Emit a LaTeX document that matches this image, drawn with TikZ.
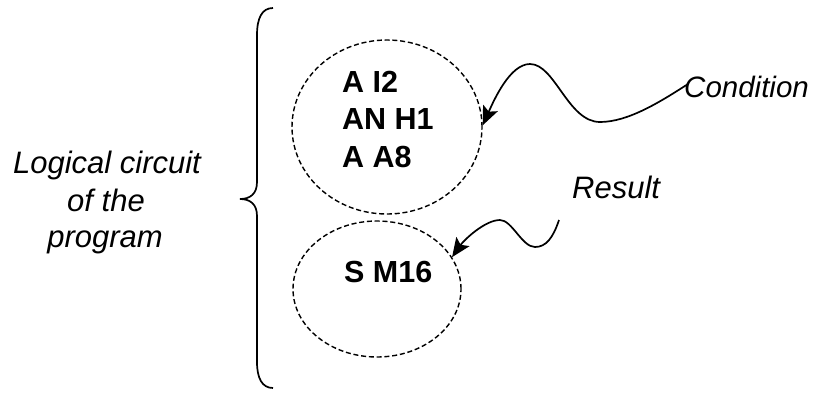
\documentclass[tikz,border=0pt]{standalone}
\usepackage{fontspec}
\setmainfont{Liberation Sans}
\usetikzlibrary{arrows.meta,shapes.geometric}
\begin{document}
\begin{tikzpicture}[x=1pt,y=-1pt,
  bubble/.style={draw,ellipse,line width=1.4pt,dash pattern=on 5pt off 2.8pt,inner sep=0pt},
  codetxt/.style={font=\fontsize{30.5}{36}\selectfont\bfseries,anchor=base west,inner sep=0pt},
  labeltxt/.style={font=\fontsize{31}{36}\selectfont\itshape,inner sep=0pt},
  wavy/.style={line width=1.7pt,-{Stealth[length=19pt,width=16pt,inset=4pt]}}]
\useasboundingbox (0,0) rectangle (816,392);
% brace
\draw[line width=1.7pt] (273,8) .. controls (262,8) and (257,18) .. (257,35) -- (257,182)
  .. controls (257,194) and (250,199) .. (240,199)
  .. controls (250,199) and (257,204) .. (257,216) -- (257,362)
  .. controls (257,378) and (262,388) .. (273,388);
% left label
\node[labeltxt,anchor=base] (lc1) at (107,173) {Logical circuit};
\node[labeltxt,anchor=base] (lc2) at (106,211) {of the};
\node[labeltxt,anchor=base] (lc3) at (105,247) {program};
% ellipses
\node[bubble,minimum width=190pt,minimum height=174pt] (top) at (387,127) {};
\node[bubble,minimum width=168pt,minimum height=136pt] (bot) at (377,289) {};
% code text
\node[codetxt] (t1) at (342,92) {A I2};
\node[codetxt] (t2) at (342,129) {AN H1};
\node[codetxt] (t3) at (342,167) {A A8};
\node[codetxt] (s1) at (344,282) {S M16};
% labels
\node[labeltxt,anchor=base west,font=\fontsize{29.5}{36}\selectfont\itshape] (cond) at (684,97) {Condition};
\node[labeltxt,anchor=base west] (res) at (572,198) {Result};
\coordinate (cs) at (688,84);
\coordinate (rs) at (559,220);
% arrows
\draw[wavy] (cs) .. controls (660,102) and (628,122) .. (600,122)
  .. controls (568,122) and (555,64) .. (530,64)
  .. controls (510,64) and (494,100) .. (top.1);
\draw[wavy] (rs) .. controls (553,238) and (546,247) .. (535,247)
  .. controls (522,247) and (512,220) .. (500,220)
  .. controls (485,220) and (464,240) .. (bot.23);
\end{tikzpicture}
\end{document}
